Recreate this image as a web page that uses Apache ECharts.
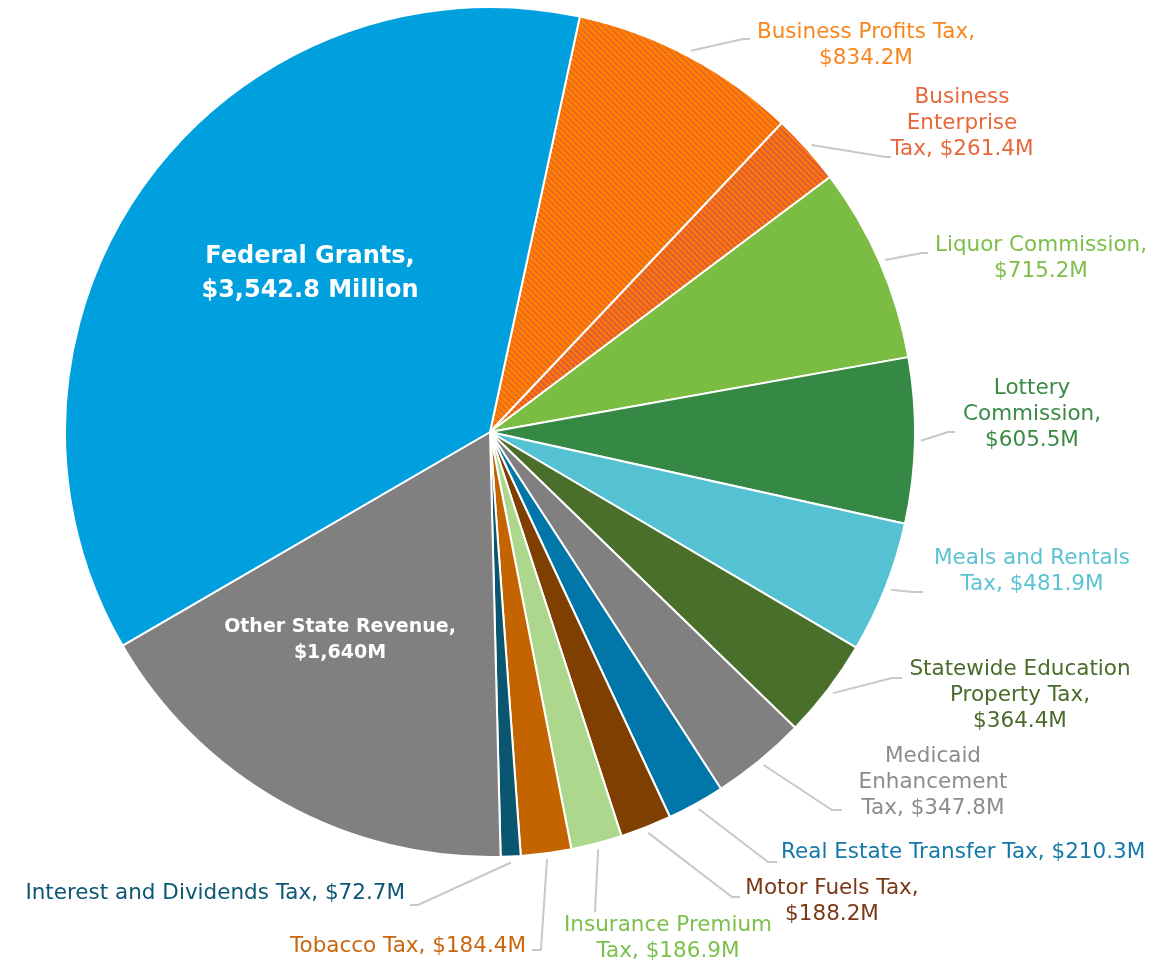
<!DOCTYPE html>
<html>
<head>
<meta charset="utf-8">
<script src="https://cdn.jsdelivr.net/npm/echarts@6/dist/echarts.min.js"></script>
<style>
  html, body { margin: 0; padding: 0; background: #fff; }
  #main { width: 1158px; height: 962px; }
</style>
</head>
<body>
<div id="main"></div>
<script>
// revenue sources, clockwise from the top
const categories = [
  "Business Profits Tax", "Business Enterprise Tax", "Liquor Commission",
  "Lottery Commission", "Meals and Rentals Tax", "Statewide Education Property Tax",
  "Medicaid Enhancement Tax", "Real Estate Transfer Tax", "Motor Fuels Tax",
  "Insurance Premium Tax", "Tobacco Tax", "Interest and Dividends Tax",
  "Other State Revenue", "Federal Grants"
];
const values = [834.2, 261.4, 715.2, 605.5, 481.9, 364.4, 347.8, 210.3, 188.2, 186.9, 184.4, 72.7, 1640, 3542.8];
const units = ["M", "M", "M", "M", "M", "M", "M", "M", "M", "M", "M", "M", "M", " Million"];
const labelTemplates = [
  "Business Profits Tax,\n{v}",
  "Business\nEnterprise\nTax, {v}",
  "Liquor Commission,\n{v}",
  "Lottery\nCommission,\n{v}",
  "Meals and Rentals\nTax, {v}",
  "Statewide Education\nProperty Tax,\n{v}",
  "Medicaid\nEnhancement\nTax, {v}",
  "Real Estate Transfer Tax, {v}",
  "Motor Fuels Tax,\n{v}",
  "Insurance Premium\nTax, {v}",
  "Tobacco Tax, {v}",
  "Interest and Dividends Tax, {v}",
  "Other State Revenue,\n{v}",
  "Federal Grants,\n{v}"
];

const sliceColors = [null, null, "#7bbd42", "#368944", "#55c2d3", "#4a6f2b", "#808080",
  "#0077a8", "#7f3f00", "#aed78e", "#c46400", "#0a5670", "#808080", "#00a0df"];
const labelColors = ["#f7861f", "#e8673a", "#7dbe48", "#3a8a45", "#5bc2d3", "#4a6b2a", "#8c8c8c",
  "#1478a8", "#7a3816", "#7cc04b", "#c8670d", "#0d5674", "#fff", "#fff"];

const cx = 490, cy = 432, R = 425;

// where each label sits, and the elbow / end of its leader line
const labelSpots = [
  { x: 866, y: 45, align: "center", line: [[743, 39], [750, 39]] },
  { x: 962, y: 123, align: "center", line: [[886, 157], [891, 157]] },
  { x: 1041, y: 258, align: "center", line: [[922, 253], [928, 253]] },
  { x: 1032, y: 414, align: "center", line: [[948, 432], [955, 432]] },
  { x: 1032, y: 571, align: "center", line: [[912, 592], [923, 592]] },
  { x: 1020, y: 695, align: "center", line: [[892, 678], [902, 678]] },
  { x: 933, y: 782, align: "center", line: [[832, 810], [842, 810]] },
  { x: 781, y: 852, align: "left", line: [[768, 862], [777, 862]] },
  { x: 832, y: 901, align: "center", line: [[732, 897], [740, 897]] },
  { x: 668, y: 938, align: "center", line: [[595, 912], [595, 912]] },
  { x: 526, y: 946, align: "right", line: [[541, 950], [532, 950]] },
  { x: 405, y: 893, align: "right", line: [[418, 905], [410, 905]] },
  { x: 340, y: 640, align: "center" },
  { x: 310, y: 274, align: "center" }
];

// diagonal hatch tile for the two business taxes
function stripes(base, stripe, w) {
  const c = document.createElement("canvas");
  c.width = c.height = 6;
  const ctx = c.getContext("2d");
  ctx.fillStyle = base;
  ctx.fillRect(0, 0, 6, 6);
  ctx.fillStyle = stripe;
  for (let y = 0; y < 6; y++) {
    for (let x = 0; x < 6; x++) {
      if ((x - y + 6) % 6 < w) ctx.fillRect(x, y, 1, 1);
    }
  }
  return c;
}
sliceColors[0] = { image: stripes("#ff8000", "#e6652c", 2), repeat: "repeat" };
sliceColors[1] = { image: stripes("#e4612e", "#ff8000", 2), repeat: "repeat" };

const pieData = categories.map((name, i) => {
  const item = {
    name: name,
    value: values[i],
    itemStyle: { color: sliceColors[i] },
    label: { color: labelColors[i] }
  };
  if (i === 12) {
    item.label = { position: "inside", color: "#fff", fontSize: 19, fontWeight: "bold", lineHeight: 26 };
    item.labelLine = { show: false };
  }
  if (i === 13) {
    item.label = { position: "inside", color: "#fff", fontSize: 24, fontWeight: "bold", lineHeight: 34 };
    item.labelLine = { show: false };
  }
  return item;
});

const myChart = echarts.init(document.getElementById("main"));
const option = {
  animation: false,
  series: [
    {
      type: "pie",
      center: [cx, cy],
      radius: R,
      startAngle: 77.8,
      clockwise: true,
      avoidLabelOverlap: false,
      itemStyle: { borderColor: "#fff", borderWidth: 2 },
      label: {
        fontFamily: "DejaVu Sans",
        fontSize: 21.5,
        lineHeight: 26,
        formatter: function (p) {
          const i = p.dataIndex;
          return labelTemplates[i].replace("{v}", "$" + values[i].toLocaleString("en-US") + units[i]);
        }
      },
      labelLine: {
        show: true,
        lineStyle: { color: "#c8c8c8", width: 2 }
      },
      labelLayout: function (params) {
        const s = labelSpots[params.dataIndex];
        const out = { x: s.x, y: s.y, align: s.align, verticalAlign: "middle" };
        if (s.line && params.labelLinePoints) {
          const p0 = params.labelLinePoints[0];
          const dx = p0[0] - cx, dy = p0[1] - cy;
          const k = (R + 6) / Math.hypot(dx, dy);
          out.labelLinePoints = [[cx + dx * k, cy + dy * k], s.line[0], s.line[1]];
        }
        return out;
      },
      data: pieData
    }
  ]
};
myChart.setOption(option);
</script>
</body>
</html>
